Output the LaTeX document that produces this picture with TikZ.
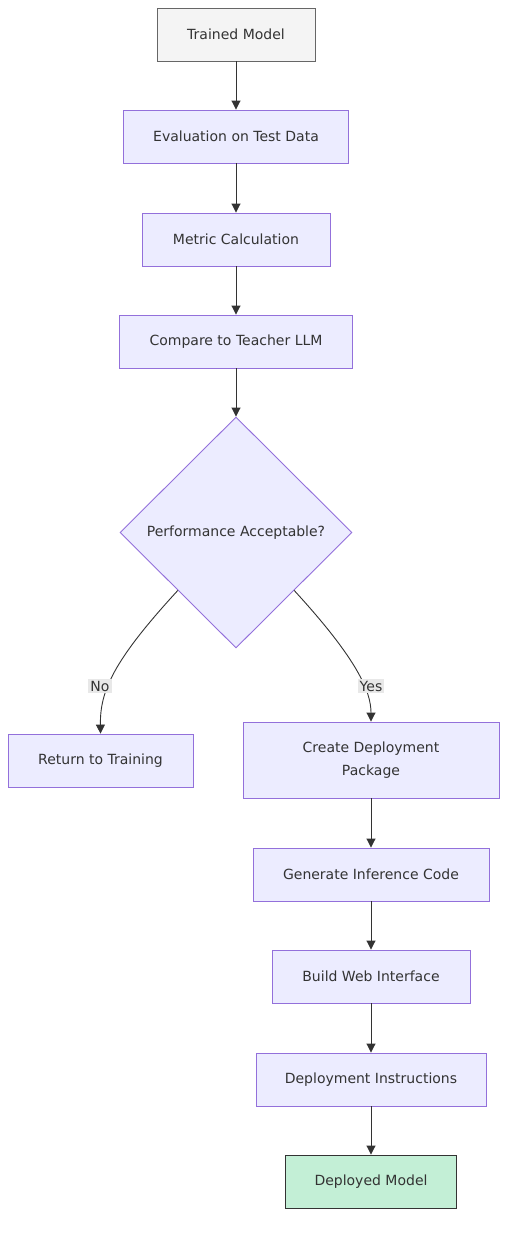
\documentclass[tikz,border=0pt]{standalone}
\usepackage{fontspec}
\setmainfont{DejaVu Sans}
\usetikzlibrary{arrows.meta, shapes.geometric}
\definecolor{boxfill}{HTML}{ECECFF}
\definecolor{boxline}{HTML}{9370DB}
\definecolor{startfill}{HTML}{F4F4F4}
\definecolor{startline}{HTML}{666666}
\definecolor{endfill}{HTML}{C3EFD6}
\definecolor{endline}{HTML}{333333}
\definecolor{edgecol}{HTML}{333333}
\definecolor{lblfill}{HTML}{E8E8E8}
\definecolor{txtcol}{HTML}{333333}

\begin{document}
\begin{tikzpicture}[
        x=1pt, y=-1pt,
        every node/.style={font=\fontsize{14}{23}\selectfont, text=txtcol, align=center},
        procbox/.style={draw=boxline, fill=boxfill, line width=0.9pt, minimum height=53pt, inner sep=0pt},
        startbox/.style={procbox, draw=startline, fill=startfill},
        endbox/.style={procbox, draw=endline, fill=endfill},
        decbox/.style={diamond, draw=boxline, fill=boxfill, line width=0.9pt, aspect=1, inner sep=0pt, minimum width=232pt, minimum height=231pt},
        edgelbl/.style={fill=lblfill, inner sep=2pt},
        flow/.style={draw=edgecol, line width=0.9pt, -{Triangle[length=9pt, width=9pt]}}
    ]
        \useasboundingbox (0,0) rectangle (515,1235);
        \node[startbox, minimum width=158pt] (trained) at (236,34.5) {Trained Model};
        \node[procbox, minimum width=225pt] (eval) at (236,136.5) {Evaluation on Test Data};
        \node[procbox, minimum width=188pt] (metric) at (236,239.5) {Metric Calculation};
        \node[procbox, minimum width=233pt] (compare) at (236,341.5) {Compare to Teacher LLM};
        \node[decbox] (accept) at (236,532.5) {Performance Acceptable?};
        \node[procbox, minimum width=185pt] (retrain) at (100.5,760.5) {Return to Training};
        \node[procbox, minimum width=256pt, minimum height=76pt] (package) at (371,760) {Create Deployment\\Package};
        \node[procbox, minimum width=236pt] (infer) at (371,874.5) {Generate Inference Code};
        \node[procbox, minimum width=198pt] (web) at (371,976.5) {Build Web Interface};
        \node[procbox, minimum width=230pt] (instr) at (371,1079.5) {Deployment Instructions};
        \node[endbox, minimum width=171pt] (deployed) at (371,1181.5) {Deployed Model};

        \draw[flow] (trained) -- (eval);
        \draw[flow] (eval) -- (metric);
        \draw[flow] (metric) -- (compare);
        \draw[flow] (compare) -- (accept);
        \draw[flow] (accept.south west) .. controls (112,662) and (100,692) .. (retrain.north);
        \draw[flow] (accept.south east) .. controls (358,660) and (371,692) .. (package.north);
        \draw[flow] (package) -- (infer);
        \draw[flow] (infer) -- (web);
        \draw[flow] (web) -- (instr);
        \draw[flow] (instr) -- (deployed);

        \node[edgelbl] (nolbl) at (100,686) {No};
        \node[edgelbl] (yeslbl) at (371,686) {Yes};
    \end{tikzpicture}
\end{document}
